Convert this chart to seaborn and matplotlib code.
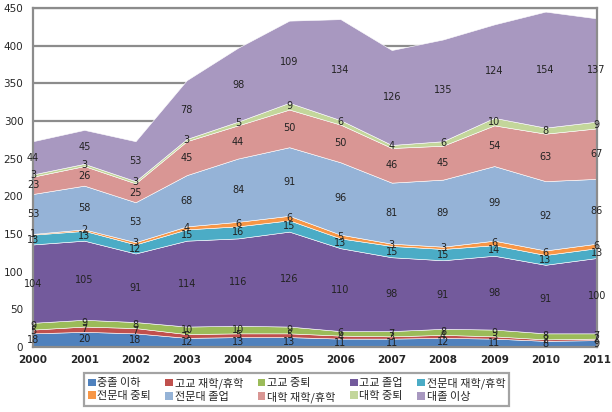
import matplotlib
matplotlib.use("Agg")
import matplotlib.pyplot as plt
import seaborn as sns
import numpy as np
from matplotlib.patches import Patch

years = [2000, 2001, 2002, 2003, 2004, 2005, 2006, 2007, 2008, 2009, 2010, 2011]
series_names = ["중졸 이하", "고교 재학/휴학", "고교 중퇴", "고교 졸업", "전문대 재학/휴학",
                "전문대 중퇴", "전문대 졸업", "대학 재학/휴학", "대학 중퇴", "대졸 이상"]
s_middle = [18, 20, 18, 12, 13, 13, 11, 11, 12, 11, 8, 9]
s_hs_enrolled = [5, 7, 7, 5, 5, 5, 4, 3, 4, 3, 2, 2]
s_hs_dropout = [9, 9, 8, 10, 10, 9, 6, 7, 8, 9, 8, 7]
s_hs_grad = [104, 105, 91, 114, 116, 126, 110, 98, 91, 98, 91, 100]
s_jc_enrolled = [13, 13, 12, 15, 16, 15, 13, 15, 15, 14, 13, 13]
s_jc_dropout = [1, 2, 3, 4, 6, 6, 5, 3, 3, 6, 6, 6]
s_jc_grad = [53, 58, 53, 68, 84, 91, 96, 81, 89, 99, 92, 86]
s_uni_enrolled = [23, 26, 25, 45, 44, 50, 50, 46, 45, 54, 63, 67]
s_uni_dropout = [3, 3, 3, 3, 5, 9, 6, 4, 6, 10, 8, 9]
s_uni_grad = [44, 45, 53, 78, 98, 109, 134, 126, 135, 124, 154, 137]
y_ticks = [0, 50, 100, 150, 200, 250, 300, 350, 400, 450]

series = [s_middle, s_hs_enrolled, s_hs_dropout, s_hs_grad, s_jc_enrolled,
          s_jc_dropout, s_jc_grad, s_uni_enrolled, s_uni_dropout, s_uni_grad]
colors = ["#4F81BD", "#C0504D", "#9BBB59", "#735A9C", "#4BACC6",
          "#F79646", "#95B3D7", "#D99694", "#C3D69B", "#A898C0"]

sns.set_style("white")
plt.rcParams['font.family'] = ['Noto Sans CJK KR', 'DejaVu Sans']

fig = plt.figure(figsize=(6.12, 4.12), dpi=100)
ax = fig.add_axes([0.054, 0.158, 0.921, 0.823])

for yv in y_ticks[1:]:
    ax.axhline(yv, color="#8C8C8C", lw=1.6, zorder=0)

ax.stackplot(years, *series, colors=colors, zorder=2, edgecolor="white", linewidth=0.4)

cum = np.zeros(len(years))
for vals in series:
    v = np.array(vals, dtype=float)
    for i, x in enumerate(years):
        ax.text(x, cum[i] + v[i] / 2, str(vals[i]), ha="center", va="center",
                fontsize=7, color="#222222", family="DejaVu Sans", zorder=5)
    cum += v

ax.set_xlim(2000, 2011)
ax.set_ylim(0, 450)
ax.set_xticks(years)
ax.set_xticklabels([str(y) for y in years], fontsize=7.5, family="DejaVu Sans",
                   fontweight="semibold")
ax.set_yticks(y_ticks)
ax.set_yticklabels([str(y) for y in y_ticks], fontsize=7.5, family="DejaVu Sans")
ax.tick_params(axis="x", length=0, pad=6)
ax.tick_params(axis="y", length=0, pad=7)
for sp in ax.spines.values():
    sp.set_color("#8C8C8C")
    sp.set_linewidth(1.6)

ncol = 5
nrow = 2
order = [r * ncol + c for c in range(ncol) for r in range(nrow)]
handles = [Patch(facecolor=colors[k], edgecolor="none") for k in order]
labels = [series_names[k] for k in order]
leg = fig.legend(handles, labels, loc="lower left", bbox_to_anchor=(0.128, 0.0),
                 ncol=ncol, fontsize=8, frameon=True, fancybox=False,
                 handlelength=0.7, handleheight=0.7, handletextpad=0.15,
                 columnspacing=1.3, labelspacing=0.25, borderpad=0.35)
leg.get_frame().set_edgecolor("#8C8C8C")
leg.get_frame().set_linewidth(1.6)

fig.savefig("out.png", dpi=100)
